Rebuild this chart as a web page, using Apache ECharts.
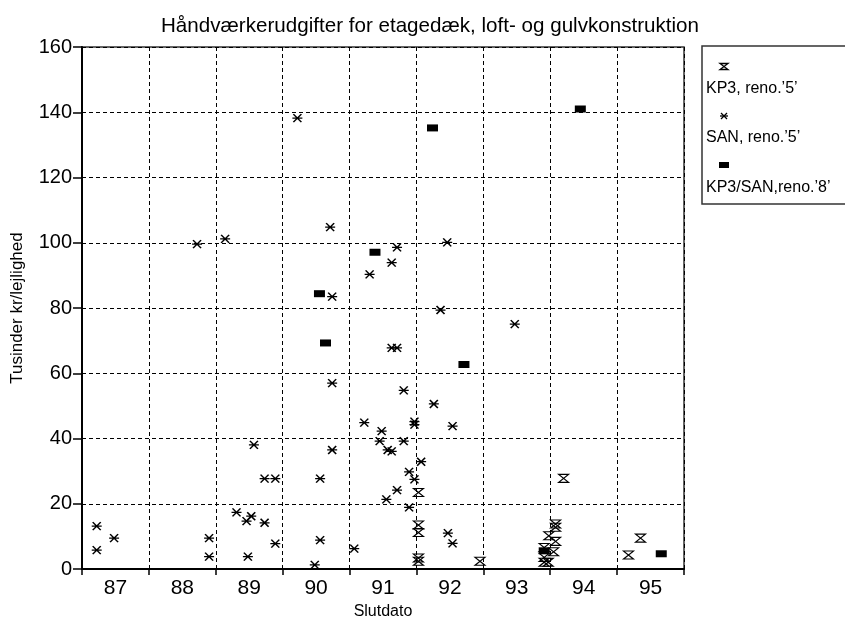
<!DOCTYPE html>
<html>
<head>
<meta charset="utf-8">
<script src="https://cdn.jsdelivr.net/npm/echarts@6/dist/echarts.min.js"></script>
<style>
  html, body { margin: 0; padding: 0; background: #fff; }
  #chart { width: 845px; height: 625px; }
</style>
</head>
<body>
<div id="chart"></div>
<script>
// Year labels on the date axis (each label sits in the middle of its year band)
const yearLabels = ['87', '88', '89', '90', '91', '92', '93', '94', '95'];

// KP3, renovation '5' — [completion date (year), thousand kr per flat]
const kp3Data = [
  [91.53, 23.5], [91.53, 13.5], [91.53, 11.2], [91.53, 3.4], [91.53, 2.4],
  [92.45, 2.4], [93.70, 27.8], [93.58, 13.8], [93.58, 12.8], [93.48, 10.2],
  [93.58, 8.5], [93.41, 6.6], [93.55, 5.3], [93.41, 3.6], [93.41, 2.1],
  [93.47, 2.1], [94.67, 4.3], [94.85, 9.5]
];

// SAN, renovation '5'
const sanData = [
  [86.72, 13.2], [86.72, 5.8], [86.98, 9.5], [88.40, 9.5], [88.40, 3.8],
  [88.22, 99.6], [88.64, 101.2], [88.81, 17.4], [88.96, 14.7], [89.03, 16.2],
  [88.98, 3.8], [89.07, 38.1], [89.23, 14.2], [89.23, 27.7], [89.39, 27.7],
  [89.39, 7.8], [89.72, 138.2], [89.98, 1.3], [90.06, 27.7], [90.06, 8.9],
  [90.21, 104.8], [90.24, 83.5], [90.24, 57.0], [90.24, 36.5], [90.57, 6.3],
  [90.72, 44.9], [90.80, 90.3], [90.98, 42.3], [90.95, 39.2], [91.05, 21.4],
  [91.07, 36.5], [91.13, 36.1], [91.13, 93.9], [91.13, 67.8], [91.21, 67.8],
  [91.21, 98.6], [91.21, 24.2], [91.31, 54.8], [91.31, 39.2], [91.39, 29.8],
  [91.39, 18.9], [91.47, 45.2], [91.47, 44.3], [91.47, 27.5], [91.57, 32.9],
  [91.76, 50.6], [91.86, 79.4], [91.96, 100.1], [92.04, 43.8], [91.97, 11.0],
  [92.04, 7.9], [92.97, 75.1]
];

// KP3/SAN, renovation '8x'
const kp3SanData = [
  [90.05, 84.4], [90.14, 69.3], [90.88, 97.1], [91.74, 135.2],
  [92.21, 62.7], [93.95, 141.0], [93.41, 5.6], [95.16, 4.7]
];

const FONT = '"Liberation Sans", Arial, Helvetica, sans-serif';

// Marker outlines
const HOURGLASS = 'path://M0,0L10,0L0,8L10,8Z';
const ASTERISK = 'path://M0,4L10,4M1,0L9,8M9,0L1,8';

const chart = echarts.init(document.getElementById('chart'), null, { renderer: 'canvas' });

const dash = { type: [4, 3], color: '#000', width: 1 };
const keyLine = { stroke: '#000', lineWidth: 1.3 };

chart.setOption({
  animation: false,
  backgroundColor: '#fff',
  textStyle: { fontFamily: FONT, color: '#000' },
  title: {
    text: 'Håndværkerudgifter for etagedæk, loft- og gulvkonstruktion',
    left: 425, textAlign: 'center', top: 11,
    textStyle: { fontFamily: FONT, fontSize: 20.6, fontWeight: 'normal', color: '#000' }
  },
  grid: {
    left: 82, right: 161, top: 47, bottom: 48,
    show: true, borderColor: '#333', borderWidth: 1.5, backgroundColor: '#fff'
  },
  xAxis: [
    {
      type: 'category',
      data: yearLabels,
      boundaryGap: true,
      name: 'Slutdato',
      nameLocation: 'middle',
      nameGap: 30,
      nameTextStyle: { fontFamily: FONT, fontSize: 16, color: '#000' },
      axisLine: { lineStyle: { color: '#000', width: 2 } },
      axisTick: { show: true, length: 6, lineStyle: { color: '#000', width: 1.5 } },
      axisLabel: { fontFamily: FONT, fontSize: 21, color: '#000', margin: 9 },
      splitLine: { show: true, lineStyle: dash }
    },
    {
      type: 'value', min: 86.5, max: 95.5, show: false
    }
  ],
  yAxis: {
    type: 'value',
    min: 0, max: 160, interval: 20,
    name: 'Tusinder kr/lejlighed',
    nameLocation: 'middle',
    nameGap: 56,
    nameTextStyle: { fontFamily: FONT, fontSize: 17, color: '#000' },
    axisLine: { show: true, lineStyle: { color: '#000', width: 2 } },
    axisTick: { show: true, length: 9, lineStyle: { color: '#000', width: 1.5 } },
    axisLabel: { fontFamily: FONT, fontSize: 20, color: '#000', margin: 10 },
    splitLine: { show: true, lineStyle: dash }
  },
  series: [
    {
      name: 'KP3/SAN,reno.’8’',
      type: 'scatter', xAxisIndex: 1,
      symbol: 'rect', symbolSize: [11, 7],
      itemStyle: { color: '#000', opacity: 1 },
      data: kp3SanData
    },
    {
      name: 'KP3, reno.’5’',
      type: 'scatter', xAxisIndex: 1,
      symbol: HOURGLASS, symbolSize: [10, 8],
      itemStyle: { color: 'rgba(0,0,0,0)', borderColor: '#000', borderWidth: 1.2, opacity: 1 },
      data: kp3Data
    },
    {
      name: 'SAN, reno.’5’',
      type: 'scatter', xAxisIndex: 1,
      symbol: ASTERISK, symbolSize: [10, 8],
      itemStyle: { color: 'rgba(0,0,0,0)', borderColor: '#000', borderWidth: 1.4, opacity: 1 },
      data: sanData
    }
  ],
  graphic: [
    // legend frame
    {
      type: 'rect', x: 702, y: 46, z: 10,
      shape: { x: 0, y: 0, width: 200, height: 158 },
      style: { fill: '#fff', stroke: '#333', lineWidth: 1.5 }
    },
    // hourglass key
    {
      type: 'polygon', z: 11,
      shape: { points: [[720, 63.5], [728, 63.5], [720, 69.5], [728, 69.5]] },
      style: { fill: 'none', stroke: '#000', lineWidth: 1.3 }
    },
    {
      type: 'text', x: 706, y: 81, z: 11,
      style: { text: 'KP3, reno.’5’', font: '16px ' + FONT, fill: '#000' }
    },
    // asterisk key
    { type: 'line', z: 11, shape: { x1: 720, y1: 116, x2: 728, y2: 116 }, style: keyLine },
    { type: 'line', z: 11, shape: { x1: 721, y1: 113, x2: 727, y2: 119 }, style: keyLine },
    { type: 'line', z: 11, shape: { x1: 727, y1: 113, x2: 721, y2: 119 }, style: keyLine },
    {
      type: 'text', x: 706, y: 130, z: 11,
      style: { text: 'SAN, reno.’5’', font: '16px ' + FONT, fill: '#000' }
    },
    // filled block key
    {
      type: 'rect', x: 719, y: 162, z: 11,
      shape: { x: 0, y: 0, width: 10, height: 6 },
      style: { fill: '#000' }
    },
    {
      type: 'text', x: 706, y: 180, z: 11,
      style: { text: 'KP3/SAN,reno.’8’', font: '16px ' + FONT, fill: '#000' }
    }
  ]
});
</script>
</body>
</html>
